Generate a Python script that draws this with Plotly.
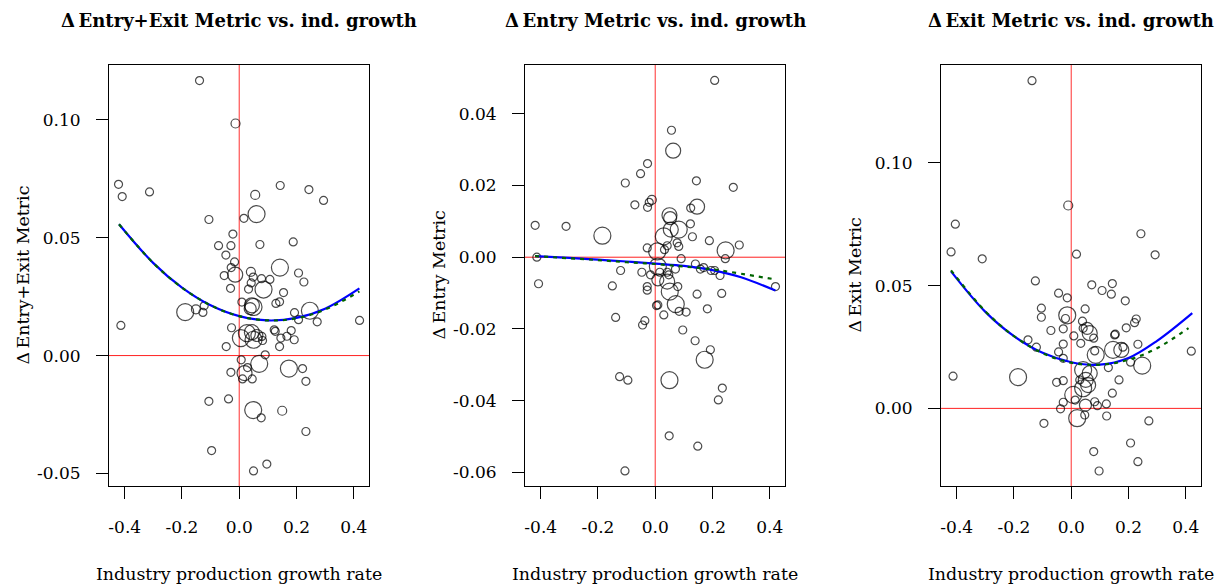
import plotly.graph_objects as go

# ---------------- data ----------------
# Panel 1: change in entry+exit metric
p1_x = [-0.1387, -0.0129, -0.4217, -0.4088, -0.3134, 0.1433, 0.2435, 0.2947, 0.0559, 0.0606,
        0.0164, -0.1059, -0.0221, -0.0722, -0.0290, 0.0723, 0.1887, -0.0466, -0.0163, -0.0280,
        -0.0140, -0.0524, 0.0408, 0.1422, 0.2073, 0.2260, 0.0489, 0.0780, 0.1072, 0.0419,
        0.0850, 0.0326, -0.0303, 0.1549, 0.1282, 0.1410, 0.0093, 0.0443, 0.0500, 0.0384,
        -0.1887, -0.1513, -0.1223, -0.1269, 0.1932, 0.2470, 0.2073, 0.2725, 0.4205, -0.4135,
        -0.0268, 0.1223, 0.1258, 0.1817, 0.1666, 0.1922, 0.1456, 0.1410, 0.0792, 0.0815,
        0.0058, 0.0268, 0.0501, 0.0617, 0.0443, -0.0454, 0.0908, 0.0070, -0.0291, 0.0186,
        0.0291, 0.0116, 0.0454, 0.0699, 0.1736, 0.2213, 0.2330, -0.0373, -0.1060, 0.0489,
        0.0769, 0.1502, 0.2330, -0.0965, 0.0500, 0.0965]
p1_y = [0.1166, 0.0984, 0.0726, 0.0674, 0.0694, 0.0721, 0.0704, 0.0658, 0.0681, 0.0600,
        0.0582, 0.0577, 0.0515, 0.0466, 0.0466, 0.0471, 0.0482, 0.0426, 0.0397, 0.0373,
        0.0343, 0.0339, 0.0355, 0.0373, 0.0350, 0.0312, 0.0333, 0.0326, 0.0323, 0.0308,
        0.0280, 0.0282, 0.0285, 0.0267, 0.0221, 0.0228, 0.0227, 0.0213, 0.0206, 0.0199,
        0.0184, 0.0196, 0.0211, 0.0183, 0.0182, 0.0190, 0.0152, 0.0143, 0.0149, 0.0128,
        0.0118, 0.0109, 0.0103, 0.0106, 0.0082, 0.0067, 0.0074, 0.0038, 0.0081, 0.0064,
        0.0074, 0.0095, 0.0067, 0.0085, 0.0099, 0.0038, 0.0003, -0.0018, -0.0071, -0.0074,
        -0.0051, -0.0099, -0.0099, -0.0035, -0.0055, -0.0055, -0.0109, -0.0184, -0.0194, -0.0231,
        -0.0264, -0.0234, -0.0322, -0.0403, -0.0489, -0.0460]
p1_w = [8, 9, 8, 8, 8, 8, 8, 8, 9, 17,
        8, 8, 8, 8, 8, 8, 8, 8, 8, 8,
        15, 8, 9, 17, 8, 8, 8, 8, 8, 8,
        17, 8, 8, 8, 8, 8, 8, 15, 17, 12,
        17, 9, 8, 8, 8, 17, 8, 8, 8, 8,
        8, 8, 8, 8, 8, 8, 8, 8, 8, 8,
        17, 17, 17, 12, 15, 8, 8, 8, 8, 15,
        8, 8, 8, 17, 17, 8, 8, 8, 8, 17,
        8, 9, 8, 8, 8, 8]

# Panel 2: change in entry metric
p2_x = [0.2077, 0.0568, 0.0627, -0.0268, -0.0512, -0.1045, 0.1439, 0.2728, -0.0118, -0.0209,
        -0.0268, -0.0711, 0.1463, 0.1240, 0.0498, 0.0522, -0.4195, -0.3115, -0.1847, 0.0822,
        0.0544, 0.0300, 0.1230, 0.1300, 0.1892, 0.2460, 0.2937, -0.0279, 0.0070, 0.0324,
        0.0418, 0.0767, 0.0822, 0.2449, -0.4136, -0.4077, 0.0906, -0.1209, -0.1498, -0.0467,
        -0.0164, 0.0091, 0.0160, 0.0418, 0.0707, 0.0474, 0.1404, 0.1578, 0.1693, 0.1951,
        0.2077, 0.2265, 0.1463, 0.2323, 0.4202, -0.0279, -0.0279, 0.0091, 0.0418, 0.0788,
        0.0509, 0.0718, 0.0091, 0.0045, 0.0300, 0.0836, 0.1080, 0.1822, -0.1383, -0.0362,
        -0.0442, 0.0962, 0.1394, 0.1927, 0.1728, -0.1244, -0.0955, 0.0498, 0.2345, 0.2206,
        0.0488, 0.1487, -0.1057]
p2_y = [0.0493, 0.0354, 0.0297, 0.0261, 0.0233, 0.0207, 0.0213, 0.0195, 0.0160, 0.0153,
        0.0139, 0.0146, 0.0141, 0.0137, 0.0117, 0.0109, 0.0089, 0.0086, 0.0060, 0.0077,
        0.0077, 0.0058, 0.0093, 0.0057, 0.0046, 0.0019, 0.0034, 0.0026, 0.0016, 0.0021,
        0.0032, 0.0040, 0.0030, -0.0004, 0.0000, -0.0074, -0.0004, -0.0037, -0.0080, -0.0042,
        -0.0049, -0.0026, -0.0042, -0.0042, -0.0033, -0.0049, -0.0019, -0.0033, -0.0029, -0.0037,
        -0.0037, -0.0051, -0.0103, -0.0101, -0.0082, -0.0082, -0.0092, -0.0063, -0.0068, -0.0082,
        -0.0096, -0.0131, -0.0133, -0.0135, -0.0161, -0.0151, -0.0153, -0.0144, -0.0168, -0.0177,
        -0.0189, -0.0203, -0.0233, -0.0258, -0.0286, -0.0333, -0.0343, -0.0343, -0.0365, -0.0398,
        -0.0498, -0.0527, -0.0596]
p2_w = [8, 8, 15, 8, 8, 8, 8, 8, 9, 8,
        8, 8, 15, 8, 15, 13, 8, 8, 17, 17,
        15, 17, 8, 8, 8, 17, 8, 8, 17, 8,
        8, 8, 8, 8, 8, 8, 8, 8, 8, 8,
        8, 17, 8, 8, 8, 8, 8, 8, 8, 8,
        8, 8, 8, 8, 8, 8, 8, 12, 15, 8,
        17, 17, 8, 8, 8, 8, 8, 8, 8, 8,
        8, 8, 8, 8, 17, 8, 8, 17, 8, 8,
        8, 8, 8]

# Panel 3: change in exit metric
p3_x = [-0.1370, -0.0104, -0.4049, 0.2435, -0.4198, -0.3110, 0.0184, 0.2932, -0.1252, 0.0718,
        0.1437, 0.1078, 0.1402, -0.0441, -0.0139, 0.1889, -0.1043, -0.1043, -0.0139, -0.0200,
        0.0487, -0.0278, -0.0710, 0.0393, 0.0417, 0.0557, 0.0647, 0.0786, 0.0090, 0.1517,
        0.1540, 0.2271, 0.2213, 0.1923, 0.2330, -0.1510, -0.1217, 0.0334, -0.0278, -0.0441,
        -0.0278, 0.0821, 0.0856, 0.1461, 0.1750, 0.1809, 0.2074, 0.2480, 0.1298, 0.1670,
        0.4196, -0.4129, -0.1857, -0.0510, -0.0278, 0.0417, 0.0647, 0.0508, 0.0591, 0.0299,
        0.0417, 0.0070, 0.1437, -0.0278, -0.0372, 0.0139, 0.0497, 0.0821, 0.0915, 0.1228,
        0.0209, 0.0473, 0.1239, -0.0953, 0.2713, 0.0786, 0.2074, 0.2330, 0.0974]
p3_y = [0.1334, 0.0826, 0.0750, 0.0711, 0.0637, 0.0609, 0.0628, 0.0625, 0.0519, 0.0503,
        0.0508, 0.0480, 0.0465, 0.0469, 0.0450, 0.0438, 0.0408, 0.0371, 0.0379, 0.0366,
        0.0405, 0.0324, 0.0317, 0.0355, 0.0326, 0.0326, 0.0306, 0.0286, 0.0295, 0.0299,
        0.0302, 0.0364, 0.0349, 0.0328, 0.0261, 0.0279, 0.0249, 0.0265, 0.0262, 0.0230,
        0.0204, 0.0234, 0.0218, 0.0238, 0.0238, 0.0249, 0.0188, 0.0174, 0.0166, 0.0116,
        0.0233, 0.0131, 0.0127, 0.0106, 0.0113, 0.0156, 0.0143, 0.0116, 0.0095, 0.0116,
        0.0082, 0.0055, 0.0062, 0.0025, -0.0002, 0.0034, 0.0013, 0.0027, 0.0011, 0.0018,
        -0.0040, -0.0027, -0.0031, -0.0061, -0.0051, -0.0176, -0.0141, -0.0217, -0.0255]
p3_w = [8, 9, 8, 8, 8, 8, 8, 8, 8, 8,
        8, 8, 8, 8, 8, 8, 8, 8, 17, 8,
        8, 8, 8, 8, 8, 12, 15, 8, 8, 8,
        8, 8, 8, 8, 8, 8, 8, 8, 8, 8,
        8, 8, 17, 17, 15, 8, 8, 17, 8, 8,
        8, 8, 17, 8, 8, 17, 15, 15, 15, 8,
        17, 17, 8, 8, 8, 8, 12, 8, 8, 8,
        17, 8, 8, 8, 8, 8, 8, 8, 8]

# Fitted curves (values read at fixed growth rates)
fit_x = [-0.42, -0.3, -0.2, -0.1, 0.0, 0.1, 0.2, 0.3, 0.42]
p1_fit_solid = [0.0557, 0.0392, 0.0288, 0.0213, 0.0167, 0.0149, 0.0160, 0.0199, 0.0285]
p1_fit_dash = [0.0557, 0.0392, 0.0288, 0.0213, 0.0167, 0.0149, 0.0158, 0.0195, 0.0272]
p2_fit_solid = [0.0003, -0.0002, -0.0007, -0.0012, -0.0018, -0.0024, -0.0036, -0.0056, -0.0093]
p2_fit_dash = [0.0003, -0.0003, -0.0008, -0.0014, -0.0019, -0.0026, -0.0034, -0.0046, -0.0062]
fit3_x = [-0.42, -0.3, -0.2, -0.1, 0.0, 0.1, 0.2, 0.3, 0.423]
fit3_dash_x = [-0.42, -0.3, -0.2, -0.1, 0.0, 0.1, 0.2, 0.3, 0.41]
p3_fit_solid = [0.0558, 0.0393, 0.0294, 0.0226, 0.0188, 0.0178, 0.0205, 0.0275, 0.0388]
p3_fit_dash = [0.0562, 0.0395, 0.0294, 0.0225, 0.0186, 0.0178, 0.0198, 0.0245, 0.0327]

x_ticks = [-0.4, -0.2, 0.0, 0.2, 0.4]
x_ticktext = ["-0.4", "-0.2", "0.0", "0.2", "0.4"]
p1_yticks = [-0.05, 0.0, 0.05, 0.10]
p1_yticktext = ["-0.05", "0.00", "0.05", "0.10"]
p2_yticks = [-0.06, -0.04, -0.02, 0.0, 0.02, 0.04]
p2_yticktext = ["-0.06", "-0.04", "-0.02", "0.00", "0.02", "0.04"]
p3_yticks = [0.0, 0.05, 0.10]
p3_yticktext = ["0.00", "0.05", "0.10"]

titles = ["\u0394\u2009Entry+Exit Metric vs. ind. growth",
          "\u0394\u2009Entry Metric vs. ind. growth",
          "\u0394\u2009Exit Metric vs. ind. growth"]
ytitles = ["\u0394\u2009Entry+Exit Metric", "\u0394\u2009Entry Metric", "\u0394\u2009Exit Metric"]
xtitle = "Industry production growth rate"

# ---------------- layout geometry (pixels) ----------------
W, H = 1216, 586
FONT = "DejaVu Serif"
box_left = [109, 525, 941]
box_w = 260
box_top, box_bot = 65, 486
ylab_x = [22, 438, 854]
x_range = [-0.455, 0.4535]
y_ranges = [[-0.0553, 0.1232], [-0.0638, 0.0536], [-0.0316, 0.1398]]

panels = [
    (p1_x, p1_y, p1_w, fit_x, p1_fit_solid, fit_x, p1_fit_dash, p1_yticks, p1_yticktext),
    (p2_x, p2_y, p2_w, fit_x, p2_fit_solid, fit_x, p2_fit_dash, p2_yticks, p2_yticktext),
    (p3_x, p3_y, p3_w, fit3_x, p3_fit_solid, fit3_dash_x, p3_fit_dash, p3_yticks, p3_yticktext),
]

fig = go.Figure()
shapes = []
annotations = []
layout_axes = {}

for i, (px, py, pw, sx, sy, dx, dy, yt, ytt) in enumerate(panels):
    n = "" if i == 0 else str(i + 1)
    xa, ya = "x" + n, "y" + n

    # reference lines at zero
    shapes.append(dict(type="line", xref=xa, yref=ya + " domain", x0=0, x1=0, y0=0, y1=1,
                       line=dict(color="#ff3030", width=1), layer="below"))
    shapes.append(dict(type="line", xref=xa + " domain", yref=ya, x0=0, x1=1, y0=0, y1=0,
                       line=dict(color="#ff2020", width=1), layer="below"))

    fig.add_trace(go.Scatter(
        x=px, y=py, mode="markers", xaxis=xa, yaxis=ya, showlegend=False,
        marker=dict(size=pw, color="rgba(0,0,0,0)", symbol="circle",
                    line=dict(color="black", width=1.2)),
        hoverinfo="x+y"))
    fig.add_trace(go.Scatter(
        x=sx, y=sy, mode="lines", xaxis=xa, yaxis=ya, showlegend=False,
        line=dict(color="#0000ff", width=2.2, shape="spline")))
    fig.add_trace(go.Scatter(
        x=dx, y=dy, mode="lines", xaxis=xa, yaxis=ya, showlegend=False,
        line=dict(color="#006400", width=2.2, shape="spline", dash="4px,5px")))

    x0 = box_left[i] / W
    x1 = (box_left[i] + box_w) / W
    y0 = 1 - box_bot / H
    y1 = 1 - box_top / H
    common = dict(showline=True, linecolor="black", linewidth=1, mirror=True,
                  ticks="outside", ticklen=12, tickwidth=1, tickcolor="black",
                  showgrid=False, zeroline=False,
                  tickfont=dict(family=FONT, size=17, color="black"))
    layout_axes["xaxis" + n] = dict(domain=[x0, x1], anchor=ya, range=x_range,
                                    tickmode="array", tickvals=x_ticks, ticktext=x_ticktext,
                                    ticklabelstandoff=14, **common)
    layout_axes["yaxis" + n] = dict(domain=[y0, y1], anchor=xa, range=y_ranges[i],
                                    tickmode="array", tickvals=yt, ticktext=ytt,
                                    ticklabelstandoff=12, **common)

    cx = (box_left[i] + box_w / 2) / W
    annotations.append(dict(text="<b>" + titles[i] + "</b>", x=cx, y=1 - 21 / H,
                            xref="paper", yref="paper", showarrow=False,
                            xanchor="center", yanchor="middle",
                            font=dict(family=FONT, size=18, color="black")))
    annotations.append(dict(text=xtitle, x=cx, y=1 - 574 / H, xref="paper", yref="paper",
                            showarrow=False, xanchor="center", yanchor="middle",
                            font=dict(family=FONT, size=17.4, color="black")))
    annotations.append(dict(text=ytitles[i], x=ylab_x[i] / W, y=1 - (box_top + box_bot) / 2 / H,
                            xref="paper", yref="paper", showarrow=False, textangle=-90,
                            xanchor="center", yanchor="middle",
                            font=dict(family=FONT, size=17.4, color="black")))

fig.update_layout(
    width=W, height=H,
    margin=dict(l=0, r=0, t=0, b=0),
    paper_bgcolor="white", plot_bgcolor="white",
    shapes=shapes, annotations=annotations,
    **layout_axes)

fig.write_html("out.html", config={"displayModeBar": False})
